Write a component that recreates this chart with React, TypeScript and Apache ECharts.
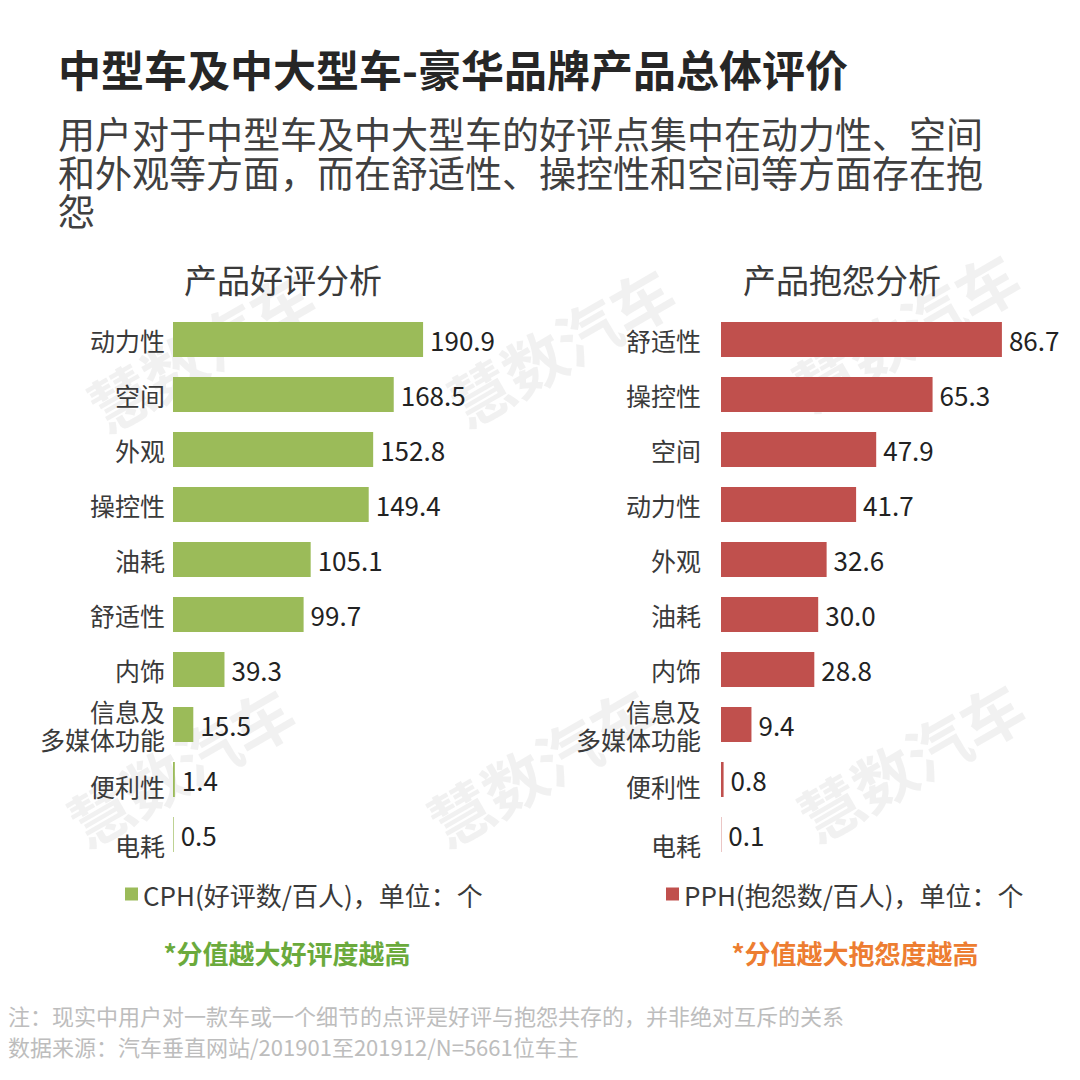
import React, { useEffect, useRef } from "react";
import * as echarts from "echarts";

const FONT = '"Noto Sans CJK SC", "Noto Sans", sans-serif';

const titleText = "中型车及中大型车-豪华品牌产品总体评价";
const subtitleLines = [
  "用户对于中型车及中大型车的好评点集中在动力性、空间",
  "和外观等方面，而在舒适性、操控性和空间等方面存在抱",
  "怨",
];

const goodTitle = "产品好评分析";
const badTitle = "产品抱怨分析";

const goodCategories = ["动力性", "空间", "外观", "操控性", "油耗", "舒适性", "内饰", "信息及\n多媒体功能", "便利性", "电耗"];
const goodValues = [190.9, 168.5, 152.8, 149.4, 105.1, 99.7, 39.3, 15.5, 1.4, 0.5];

const badCategories = ["舒适性", "操控性", "空间", "动力性", "外观", "油耗", "内饰", "信息及\n多媒体功能", "便利性", "电耗"];
const badValues = [86.7, 65.3, 47.9, 41.7, 32.6, 30.0, 28.8, 9.4, 0.8, 0.1];

const goodSeriesName = "CPH(好评数/百人)，单位：个";
const badSeriesName = "PPH(抱怨数/百人)，单位：个";

const goodNote = "*分值越大好评度越高";
const badNote = "*分值越大抱怨度越高";

const footnotes = [
  "注：现实中用户对一款车或一个细节的点评是好评与抱怨共存的，并非绝对互斥的关系",
  "数据来源：汽车垂直网站/201901至201912/N=5661位车主",
];

const watermarkText = "慧数汽车";
const watermarkSpots = [
  [200, 350],
  [560, 345],
  [905, 330],
  [180, 765],
  [540, 765],
  [910, 760],
];

const GREEN = "#9BBB59";
const RED = "#C0504D";

export default function App() {
  const ref = useRef<HTMLDivElement>(null);

  useEffect(() => {
    document.body.style.margin = "0";
    if (!ref.current) return;
    const chart = echarts.init(ref.current, undefined, { renderer: "svg" });

    const watermarks = watermarkSpots.map(([x, y]) => ({
      type: "text",
      x,
      y,
      rotation: (30 * Math.PI) / 180,
      z: 0,
      silent: true,
      style: {
        text: watermarkText,
        fontSize: 62,
        fontWeight: "bold",
        fontFamily: FONT,
        fill: "rgba(190,190,190,0.22)",
        align: "center",
        verticalAlign: "middle",
      },
    }));

    const text = (t: string, x: number, y: number, opts: any = {}) => ({
      type: "text",
      x,
      y,
      z: 10,
      style: {
        text: t,
        fontFamily: FONT,
        align: "left",
        verticalAlign: "middle",
        ...opts,
      },
    });

    const richBase = { fontSize: 25, color: "#3a3a3a", fontFamily: FONT };

    const yAxisCommon = (data: string[], margin: number) => ({
      type: "category",
      data,
      inverse: true,
      axisLine: { show: false },
      axisTick: { show: false },
      axisLabel: {
        fontSize: 25,
        color: "#3a3a3a",
        fontFamily: FONT,
        margin,
        lineHeight: 28,
        formatter: (v: string) => {
          if (v === "电耗") return `{low2|${v}}`;
          if (v === "便利性") return `{low1|${v}}`;
          return v;
        },
        rich: {
          low1: { ...richBase, padding: [12, 0, 0, 0] },
          low2: { ...richBase, padding: [20, 0, 0, 0] },
        },
      },
    });

    const valueLabel = {
      show: true,
      position: "right",
      distance: 7,
      fontSize: 26,
      color: "#222",
      fontFamily: FONT,
      formatter: (p: any) => Number(p.value).toFixed(1),
    };

    const legendCommon = {
      top: 876,
      icon: "rect",
      itemWidth: 13,
      itemHeight: 13,
      itemGap: 8,
      selectedMode: false,
      textStyle: { fontSize: 26, color: "#3a3a3a", fontFamily: FONT },
    };

    chart.setOption({
      animation: false,
      backgroundColor: "#ffffff",
      textStyle: { fontFamily: FONT },
      legend: [
        { ...legendCommon, data: [goodSeriesName], left: 120 },
        { ...legendCommon, data: [badSeriesName], left: 661 },
      ],
      grid: [
        { left: 173, top: 312, width: 262, height: 550 },
        { left: 721, top: 312, width: 324, height: 550 },
      ],
      xAxis: [
        { type: "value", gridIndex: 0, min: 0, max: 200, show: false },
        { type: "value", gridIndex: 1, min: 0, max: 100, show: false },
      ],
      yAxis: [
        { gridIndex: 0, ...yAxisCommon(goodCategories, 8) },
        { gridIndex: 1, ...yAxisCommon(badCategories, 20) },
      ],
      series: [
        {
          name: goodSeriesName,
          type: "bar",
          xAxisIndex: 0,
          yAxisIndex: 0,
          data: goodValues,
          barWidth: 35,
          itemStyle: { color: GREEN },
          label: valueLabel,
        },
        {
          name: badSeriesName,
          type: "bar",
          xAxisIndex: 1,
          yAxisIndex: 1,
          data: badValues,
          barWidth: 35,
          itemStyle: { color: RED },
          label: valueLabel,
        },
      ],
      graphic: [
        ...watermarks,
        text(titleText, 58, 68, { fontSize: 43, fontWeight: "bold", fill: "#262626" }),
        ...subtitleLines.map((l, i) =>
          text(l, 58, 133 + i * 38.5, { fontSize: 37, fill: "#404040" })
        ),
        text(goodTitle, 283, 279, { fontSize: 33, fill: "#3a3a3a", align: "center" }),
        text(badTitle, 842, 279, { fontSize: 33, fill: "#3a3a3a", align: "center" }),
        text(goodNote, 287, 952, { fontSize: 26, fontWeight: "bold", fill: "#6BAA3C", align: "center" }),
        text(badNote, 855, 952, { fontSize: 26, fontWeight: "bold", fill: "#ED7D31", align: "center" }),
        text(footnotes[0], 8, 1015, { fontSize: 22, fill: "#bdbdbd" }),
        text(footnotes[1], 8, 1046, { fontSize: 22, fill: "#bdbdbd" }),
      ],
    });

    return () => chart.dispose();
  }, []);

  return <div ref={ref} style={{ width: 1080, height: 1080 }} />;
}
